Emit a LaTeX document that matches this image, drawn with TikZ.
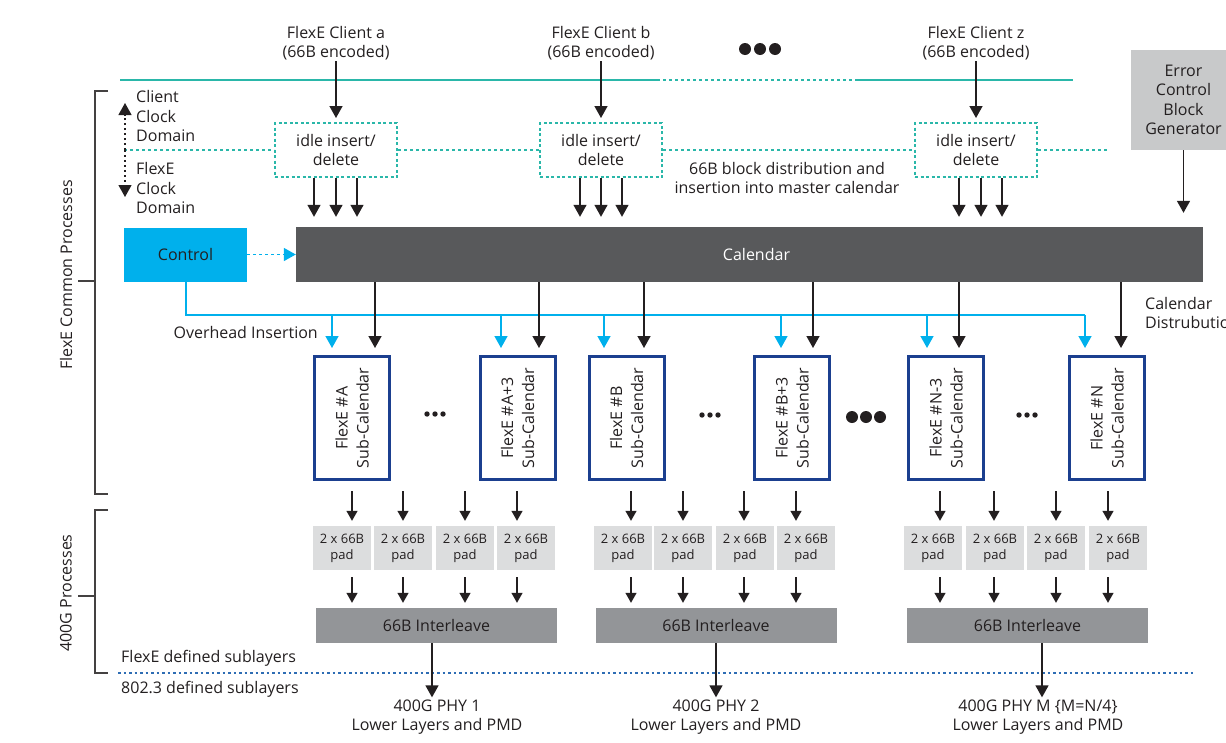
\documentclass[tikz,border=0pt]{standalone}
\usepackage{fontspec}
\setmainfont{Open Sans}
\usetikzlibrary{arrows.meta}
\definecolor{flexteal}{RGB}{42,183,169}
\definecolor{ctrlcyan}{RGB}{0,176,236}
\definecolor{caldark}{RGB}{88,89,91}
\definecolor{ecgray}{RGB}{200,201,202}
\definecolor{padgray}{RGB}{220,221,222}
\definecolor{ilgray}{RGB}{147,149,152}
\definecolor{scblue}{RGB}{27,63,143}
\definecolor{layblue}{RGB}{46,109,180}
\definecolor{ink}{RGB}{35,31,32}
\tikzset{
  arr/.style={ink, line width=1.5pt, -{Triangle[width=13pt,length=12pt]}},
  smallarr/.style={ink, line width=1.3pt, -{Triangle[width=11pt,length=10pt]}},
  cyarr/.style={ctrlcyan, line width=1.5pt, -{Triangle[width=13pt,length=12pt]}},
  idlebox/.style={draw=flexteal, line width=2pt, dash pattern=on 3pt off 2.5pt, minimum width=122pt, minimum height=54pt, align=center, inner sep=0pt},
  subcal/.style={draw=scblue, line width=3pt, fill=white, minimum width=75pt, minimum height=123pt},
  pad/.style={fill=padgray, minimum width=58pt, minimum height=44pt, align=center, font=\fontsize{13}{16}\selectfont, inner sep=0pt},
  ilv/.style={fill=ilgray, minimum width=241pt, minimum height=35pt, inner sep=0pt},
  lbl/.style={align=center, inner sep=1pt},
  bracket/.style={draw=ink!85, line width=1.5pt},
}
\begin{document}
\begin{tikzpicture}[x=1pt, y=-1pt, font=\fontsize{16}{19.5}\selectfont, text=ink]
\useasboundingbox (0,0) rectangle (1226,742);

\node[lbl] (cla) at (336,43) {FlexE Client a\\(66B encoded)};
\node[lbl] (clb) at (601,43) {FlexE Client b\\(66B encoded)};
\node[lbl] (clz) at (976,43) {FlexE Client z\\(66B encoded)};
\foreach \x in {745,760,775} \fill[ink] (\x,49) circle (6pt);

\draw[flexteal, line width=2pt] (120,80) -- (657,80);
\draw[flexteal, line width=2pt, dash pattern=on 3pt off 3pt] (657,80) -- (856,80);
\draw[flexteal, line width=2pt] (856,80) -- (1073,80);

\node[idlebox] (idla) at (336,150) {idle insert/\\delete};
\node[idlebox] (idlb) at (601,150) {idle insert/\\delete};
\node[idlebox] (idlz) at (976,150) {idle insert/\\delete};
\draw[flexteal, line width=1.6pt, dash pattern=on 3pt off 3pt] (124,150) -- (idla.west) (idla.east) -- (idlb.west) (idlb.east) -- (idlz.west) (idlz.east) -- (1107,150);

\draw[arr, shorten >=4pt] (cla.south) -- (idla.north);
\draw[arr, shorten >=4pt] (clb.south) -- (idlb.north);
\draw[arr, shorten >=4pt] (clz.south) -- (idlz.north);

\node[lbl] (dist) at (787,178) {66B block distribution and\\insertion into master calendar};

\coordinate (clk) at (125,150);
\coordinate (clkup) at (125,103);
\coordinate (clkdn) at (125,197);
\draw[ink, line width=1.2pt, dash pattern=on 2pt off 3pt, -{Triangle[width=13pt,length=12pt]}] (clk) -- (clkup);
\draw[ink, line width=1.2pt, dash pattern=on 2pt off 3pt, -{Triangle[width=13pt,length=12pt]}] (clk) -- (clkdn);
\node[align=left, anchor=west, inner sep=0pt] (cdom) at (136,116) {Client\\Clock\\Domain};
\node[align=left, anchor=west, inner sep=0pt] (fdom) at (136,188) {FlexE\\Clock\\Domain};

\node[fill=ctrlcyan, minimum width=123pt, minimum height=54pt] (ctrl) at (185.5,254.5) {Control};
\node[fill=caldark, text=white, minimum width=907pt, minimum height=55pt] (cal) at (749.5,254.5) {\hspace{14pt}Calendar};
\draw[ctrlcyan, line width=1.5pt, dash pattern=on 3pt off 3pt, -{Triangle[width=13pt,length=12pt]}] (ctrl) -- (cal);

\node[fill=ecgray, minimum width=105pt, minimum height=100pt, align=center, inner sep=0pt] (ecb) at (1183.5,100) {Error\\Control\\Block\\Generator};
\draw[arr, shorten >=14pt] (ecb.south) -- (ecb.south |- cal.north);

\foreach \n/\x in {idla/314, idla/336, idla/357, idlb/580, idlb/601, idlb/622, idlz/959, idlz/981, idlz/1002}
  \draw[arr, shorten >=10pt] (\x,0 |- \n.south) -- (\x,0 |- cal.north);

\foreach \n/\x/\t in {scA/352/A, scA3/517.5/A+3, scB/626.5/B, scB3/792/B+3, scN3/946/N-3, scN/1107/N} {
  \node[subcal] (\n) at (\x,418) {};
  \node[rotate=90, align=center, font=\fontsize{16}{21}\selectfont] (\n-t) at (\n) {FlexE \#\t\\Sub-Calendar};
}

\draw[ctrlcyan, line width=1.5pt] (ctrl.south -| 186,0) -- (186,315) -- (1085,315);
\foreach \n/\cx/\bx in {scA/332/375, scA3/501/539, scB/604/644, scB3/781/813, scN3/927/959, scN/1085/1121} {
  \draw[arr, shorten >=7pt] (\bx,0 |- cal.south) -- (\bx,0 |- \n.north);
  \draw[cyarr, shorten >=7pt] (\cx,315) -- (\cx,0 |- \n.north);
}
\node[anchor=east, inner sep=0pt] (ovh) at (318,332) {Overhead Insertion};
\node[anchor=west, align=left, inner sep=0pt] (cdist) at (1145,313) {Calendar\\Distrubution};

\foreach \x in {427,435,443} \fill[ink] (\x,414) circle (2.7pt);
\foreach \x in {702,710,718} \fill[ink] (\x,415) circle (2.7pt);
\foreach \x in {1019,1027,1035} \fill[ink] (\x,415) circle (2.7pt);
\foreach \x in {852,866,880} \fill[ink] (\x,417) circle (6pt);

\node[ilv] (il1) at (436.5,625.5) {66B Interleave};
\node[ilv] (il2) at (716,625.5) {66B Interleave};
\node[ilv] (il3) at (1027.5,625.5) {66B Interleave};

\foreach \n/\x/\ax/\il in {p11/342/352/il1, p12/403/403/il1, p13/465/465/il1, p14/526/517/il1, p21/623/631/il2, p22/683/683/il2, p23/745/744/il2, p24/806/796/il2, p31/933/940/il3, p32/995/994/il3, p33/1056/1056/il3, p34/1118/1108/il3} {
  \node[pad] (\n) at (\x,548) {2 x 66B\\pad};
  \draw[smallarr, shorten >=5pt] (\ax,491) -- (\ax,0 |- \n.north);
  \draw[smallarr, shorten <=7pt, shorten >=5pt] (\ax,0 |- \n.south) -- (\ax,0 |- \il.north);
}

\node[lbl] (phy1) at (437,717) {400G PHY 1\\Lower Layers and PMD};
\node[lbl] (phy2) at (716,717) {400G PHY 2\\Lower Layers and PMD};
\node[lbl] (phym) at (1038,717) {400G PHY M \{M=N/4\}\\Lower Layers and PMD};

\draw[layblue, line width=2pt, dash pattern=on 2.5pt off 3pt] (118,673) -- (1193,673);
\node[anchor=west, inner sep=0pt] (fxsub) at (121,658) {FlexE defined sublayers};
\node[anchor=west, inner sep=0pt] (ieee) at (121,689) {802.3 defined sublayers};

\draw[arr, shorten >=1pt] (432,0 |- il1.south) -- (432,0 |- phy1.north);
\draw[arr, shorten >=1pt] (il2.south) -- (phy2.north);
\draw[arr, shorten >=1pt] (1042,0 |- il3.south) -- (1042,0 |- phym.north);

\draw[bracket] (108,91) -- (95,91) -- (95,494) -- (108,494) (78,281) -- (95,281);
\node[rotate=90] (fcp) at (66,275) {FlexE Common Processes};
\draw[bracket] (108,510) -- (95,510) -- (95,673) -- (108,673) (78,596) -- (95,596);
\node[rotate=90] (gp) at (66,593) {400G Processes};
\end{tikzpicture}
\end{document}
